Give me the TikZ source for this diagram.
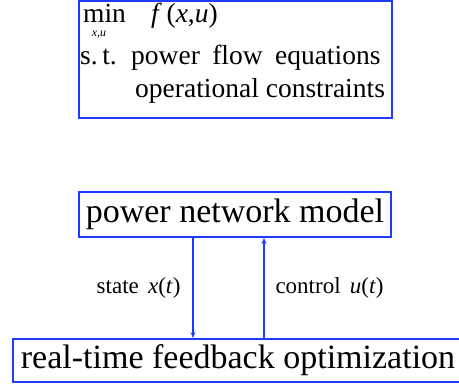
\documentclass[tikz,border=0pt]{standalone}
\usepackage{fontspec}
\setmainfont{Liberation Serif}
\usetikzlibrary{arrows.meta}

\definecolor{netblue}{RGB}{30,60,255}

% italic letters set in the text face
\newcommand{\vr}[1]{\textit{#1}}

\tikzset{
	blockbox/.style = {draw = netblue, line width = 2pt, inner sep = 0pt},
	txt/.style = {anchor = base west, inner sep = 0pt},
	flow/.style = {draw = netblue, line width = 2pt,
				   -{Stealth[length = 6pt, width = 5pt]}}
}

\begin{document}
\begin{tikzpicture}[x = 1pt, y = -1pt]
	\useasboundingbox (0, 0) rectangle (459, 384);
	\clip (0, 0) rectangle (459, 384);

	% optimization problem
	\draw (235.5, 59.5) node[draw = netblue,
							 line width = 1.2pt,
							 minimum width = 313pt,
							 minimum height = 117pt
					  ](prob){};
	\begin{scope}[font = \fontsize{27.5}{31}\selectfont]
		\draw (83, 22) node[txt](minop){min};
		\draw (99, 36) node[anchor = base,
							inner sep = 0pt,
							font = \fontsize{12}{13}\selectfont\itshape
					 ](minsub){x,u};
		\draw (151, 22) node[txt](obj){\vr{f}\,(\vr{x},\vr{u})};
		\draw (80, 64) node[txt](st){s.\,t.};
		\draw (131, 64) node[txt](pf){power\hspace{0.45em}flow\hspace{0.45em}equations};
		\draw (135, 97) node[txt](oc){operational constraints};
	\end{scope}

	% plant and controller
	\draw (235, 214.5) node[blockbox,
							minimum width = 312pt,
							minimum height = 45pt,
							font = \fontsize{34}{40}\selectfont
					 ](pnm){power network model};
	\draw (238, 360.5) node[blockbox,
							minimum width = 450pt,
							minimum height = 43pt,
							font = \fontsize{34}{40}\selectfont
					 ](rtfo){real-time feedback optimization};

	\draw[flow] ([xshift = -42pt]pnm.south) -- ([xshift = -42pt]pnm.south |- rtfo.north);
	\draw[flow] ([xshift = 29pt]pnm.south |- rtfo.north) -- ([xshift = 29pt]pnm.south);

	\draw (184, 288) node[anchor = east,
						  font = \fontsize{23}{27}\selectfont
				   ](xlbl){state\hspace{0.4em}\vr{x}(\vr{t})};
	\draw (272, 288) node[anchor = west,
						  font = \fontsize{23}{27}\selectfont
				   ](ulbl){control\hspace{0.4em}\vr{u}(\vr{t})};
\end{tikzpicture}
\end{document}
